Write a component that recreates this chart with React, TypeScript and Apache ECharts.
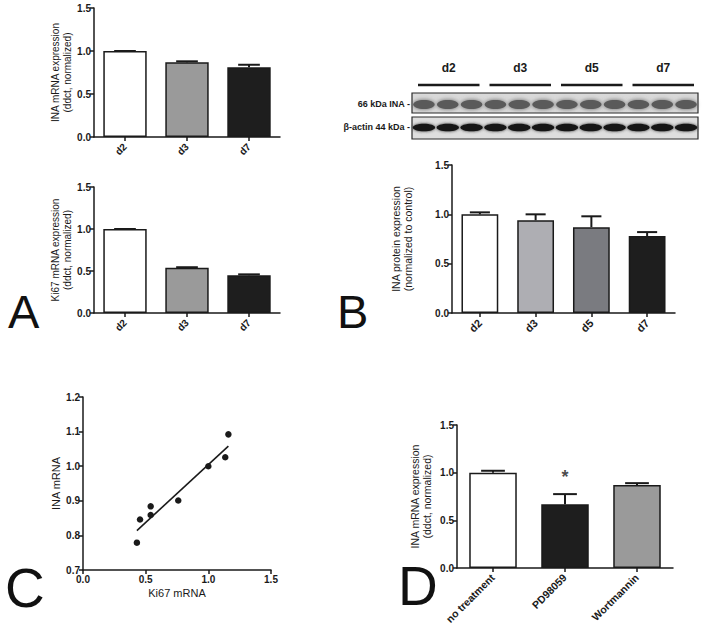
import React, { useEffect, useRef } from 'react';
import * as echarts from 'echarts';

// Panel A
const aCats = ['d2', 'd3', 'd7'];
const aInaMean = [1.0, 0.87, 0.81];
const aInaErrTop = [1.0, 0.88, 0.84];
const aKiMean = [1.0, 0.54, 0.45];
const aKiErrTop = [1.0, 0.545, 0.46];
const aColors = ['#ffffff', '#9a9a9a', '#1e1e1e'];

// Panel B
const bCats = ['d2', 'd3', 'd5', 'd7'];
const bMean = [1.0, 0.94, 0.87, 0.78];
const bErrTop = [1.02, 1.0, 0.98, 0.82];
const bColors = ['#ffffff', '#aeaeb3', '#7a7b80', '#1e1e1e'];
const blotRows = ['66 kDa INA -', 'β-actin 44 kDa -'];

// Panel C
const cKi67 = [0.43, 0.455, 0.54, 0.54, 0.76, 1.0, 1.135, 1.16];
const cIna = [0.779, 0.846, 0.884, 0.859, 0.901, 1.0, 1.026, 1.092];
const cFitX = [0.43, 1.16];
const cFitY = [0.814, 1.058];

// Panel D
const dCats = ['no treatment', 'PD98059', 'Wortmannin'];
const dMean = [1.0, 0.67, 0.87];
const dErrTop = [1.02, 0.775, 0.89];
const dColors = ['#ffffff', '#1e1e1e', '#9a9a9a'];
const dSig = ['', '*', ''];
const dSigY = [0, 0.95, 0];

const INK = '#1a1a1a';
const FONT = 'Liberation Sans, Arial, sans-serif';

function errRender(capFrac: number) {
  return (params: any, api: any) => {
    const i = api.value(0);
    const lo = api.coord([i, api.value(1)]);
    const hi = api.coord([i, api.value(2)]);
    const cw = api.size([1, 0])[0] * capFrac;
    return {
      type: 'group',
      children: [
        { type: 'line', shape: { x1: lo[0], y1: lo[1], x2: hi[0], y2: hi[1] }, style: { stroke: INK, lineWidth: 2 } },
        { type: 'line', shape: { x1: hi[0] - cw / 2, y1: hi[1], x2: hi[0] + cw / 2, y2: hi[1] }, style: { stroke: INK, lineWidth: 2 } },
      ],
    };
  };
}

function yAx(gridIndex: number, name: string, nameGap: number, nameSize: number, min = 0, max = 1.5, interval = 0.5) {
  return {
    type: 'value', gridIndex, min, max, interval,
    axisLine: { show: true, onZero: false, lineStyle: { color: INK, width: 1.5 } },
    axisTick: { show: true, length: 4, lineStyle: { color: INK, width: 1.5 } },
    splitLine: { show: false },
    axisLabel: { formatter: (v: number) => v.toFixed(1), color: INK, fontSize: 10, fontWeight: 'bold', margin: 3, fontFamily: FONT },
    name, nameLocation: 'middle', nameRotate: 90, nameGap,
    nameTextStyle: { color: INK, fontSize: nameSize, fontFamily: FONT, lineHeight: nameSize + 1.5 },
  };
}

function xCat(gridIndex: number, data: string[], fontSize = 10) {
  return {
    type: 'category', gridIndex, data,
    axisLine: { show: true, lineStyle: { color: INK, width: 1.5 } },
    axisTick: { show: true, alignWithLabel: true, length: 4, lineStyle: { color: INK, width: 1.5 } },
    axisLabel: { rotate: 45, color: INK, fontSize, fontWeight: 'bold', margin: 8, fontFamily: FONT },
  };
}

function bars(idx: number, vals: number[], colors: string[], width: string) {
  return {
    type: 'bar', xAxisIndex: idx, yAxisIndex: idx, barWidth: width,
    data: vals.map((v, i) => ({ value: v, itemStyle: { color: colors[i], borderColor: INK, borderWidth: 1.5 } })),
  };
}

function errs(idx: number, mean: number[], top: number[], cap: number) {
  return {
    type: 'custom', xAxisIndex: idx, yAxisIndex: idx, z: 5,
    renderItem: errRender(cap),
    data: mean.map((m, i) => [i, m, top[i]]),
  };
}

export default function App() {
  const ref = useRef<HTMLDivElement>(null);
  useEffect(() => {
    document.body.style.margin = '0';
    const chart = echarts.init(ref.current!, undefined, { renderer: 'svg' });

    // Western blot drawing
    const bx = 412, bw = 286, lanes = 12;
    const laneW = bw / lanes;
    const blot: any[] = [];
    blot.push({ type: 'rect', shape: { x: bx, y: 93, width: bw, height: 20 }, style: { fill: '#d9d9d9', stroke: '#2a2a2a', lineWidth: 1.2 } });
    blot.push({ type: 'rect', shape: { x: bx, y: 117, width: bw, height: 22 }, style: { fill: '#dedede', stroke: '#2a2a2a', lineWidth: 1.2 } });
    for (let i = 0; i < lanes; i++) {
      const cx = bx + laneW * (i + 0.5);
      blot.push({ type: 'ellipse', shape: { cx, cy: 104.5, rx: laneW * 0.45, ry: 4.5 }, style: { fill: '#5a5a5a', shadowBlur: 4, shadowColor: '#666' } });
      blot.push({ type: 'ellipse', shape: { cx, cy: 127.5, rx: laneW * 0.47, ry: 3.8 }, style: { fill: '#161616', shadowBlur: 3, shadowColor: '#333' } });
    }
    bCats.forEach((c, g) => {
      const x0 = bx + laneW * 3 * g + 6;
      const x1 = bx + laneW * 3 * (g + 1) - 4;
      blot.push({ type: 'line', shape: { x1: x0, y1: 85, x2: x1, y2: 85 }, style: { stroke: INK, lineWidth: 2.5 } });
      blot.push({ type: 'text', x: (x0 + x1) / 2, y: 68, style: { text: c, fontSize: 12, fontWeight: 'bold', fontFamily: FONT, fill: INK, align: 'center', verticalAlign: 'middle' } });
    });
    blotRows.forEach((t, r) => {
      blot.push({ type: 'text', x: 410, y: r === 0 ? 104 : 127, style: { text: t, fontSize: 9, fontWeight: 'bold', fontFamily: FONT, fill: INK, align: 'right', verticalAlign: 'middle' } });
    });

    const letters = [
      { t: 'A', x: 8, y: 311, s: 47 },
      { t: 'B', x: 337, y: 311, s: 47 },
      { t: 'C', x: 5, y: 588, s: 55 },
      { t: 'D', x: 398, y: 586, s: 55 },
    ].map((l) => ({ type: 'text', x: l.x, y: l.y, style: { text: l.t, fontSize: l.s, fontFamily: FONT, fill: '#111', align: 'left', verticalAlign: 'middle' } }));

    chart.setOption({
      animation: false,
      backgroundColor: '#ffffff',
      grid: [
        { left: 94, top: 8, width: 186, height: 129 },
        { left: 94, top: 187, width: 186, height: 126 },
        { left: 452, top: 165, width: 223, height: 148 },
        { left: 83, top: 397, width: 188, height: 173 },
        { left: 457, top: 425, width: 216, height: 143 },
      ],
      xAxis: [
        xCat(0, aCats),
        xCat(1, aCats),
        xCat(2, bCats, 11),
        {
          type: 'value', gridIndex: 3, min: 0, max: 1.5, interval: 0.5,
          axisLine: { show: true, onZero: false, lineStyle: { color: INK, width: 1.5 } },
          axisTick: { show: true, length: 4, lineStyle: { color: INK, width: 1.5 } },
          splitLine: { show: false },
          axisLabel: { formatter: (v: number) => v.toFixed(1), color: INK, fontSize: 10, fontWeight: 'bold', margin: 4, fontFamily: FONT },
          name: 'Ki67 mRNA', nameLocation: 'middle', nameGap: 17,
          nameTextStyle: { color: INK, fontSize: 11, fontFamily: FONT },
        },
        xCat(4, dCats, 10.5),
      ],
      yAxis: [
        yAx(0, 'INA mRNA expression\n(ddct, normalized)', 19, 10),
        yAx(1, 'Ki67 mRNA expression\n(ddct, normalized)', 19, 10),
        yAx(2, 'INA protein expression\n(normalized to control)', 38, 10.5),
        yAx(3, 'INA mRNA', 21, 11, 0.7, 1.2, 0.1),
        yAx(4, 'INA mRNA expression\n(ddct, normalized)', 24, 10.5),
      ],
      series: [
        bars(0, aInaMean, aColors, '70%'),
        errs(0, aInaMean, aInaErrTop, 0.35),
        bars(1, aKiMean, aColors, '70%'),
        errs(1, aKiMean, aKiErrTop, 0.35),
        bars(2, bMean, bColors, '66%'),
        errs(2, bMean, bErrTop, 0.36),
        {
          type: 'scatter', xAxisIndex: 3, yAxisIndex: 3, symbolSize: 6.5,
          itemStyle: { color: INK, opacity: 1 },
          data: cKi67.map((x, i) => [x, cIna[i]]),
        },
        {
          type: 'line', xAxisIndex: 3, yAxisIndex: 3, symbol: 'none',
          lineStyle: { color: INK, width: 1.6 },
          data: cFitX.map((x, i) => [x, cFitY[i]]),
        },
        bars(4, dMean, dColors, '66%'),
        errs(4, dMean, dErrTop, 0.33),
        {
          type: 'scatter', xAxisIndex: 4, yAxisIndex: 4, symbolSize: 0,
          data: dSig.map((s, i) => ({ value: [i, dSigY[i]], s })).filter((d) => d.s),
          label: { show: true, position: 'inside', formatter: (p: any) => p.data.s, fontSize: 18, fontWeight: 'bold', color: INK, fontFamily: FONT },
        },
      ],
      graphic: [...blot, ...letters],
    });
    return () => chart.dispose();
  }, []);
  return <div ref={ref} style={{ width: 714, height: 634 }} />;
}
